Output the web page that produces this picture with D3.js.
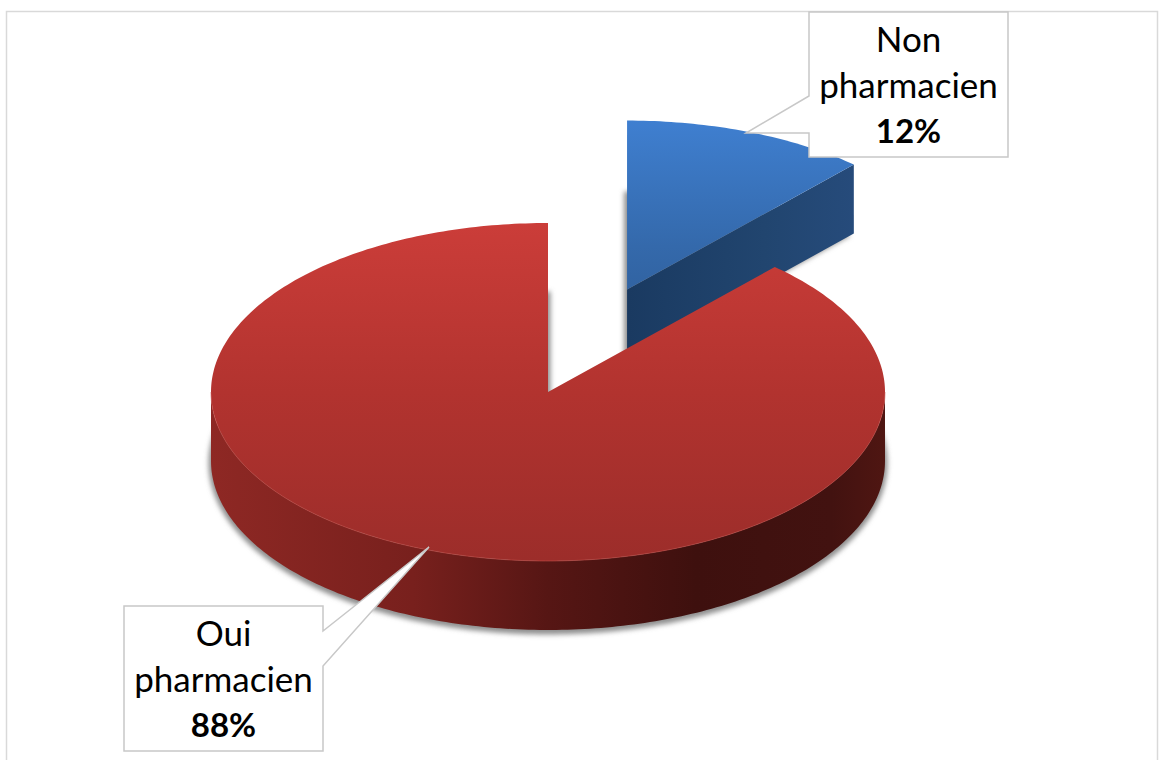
<!DOCTYPE html>
<html>
<head>
<meta charset="utf-8">
<script src="https://cdn.jsdelivr.net/npm/d3@7"></script>
<style>
  html, body { margin: 0; padding: 0; background: #fff; overflow: hidden; }
  text { font-family: Lato, "Open Sans", sans-serif; fill: #000; }
</style>
</head>
<body>
<div id="piechart"></div>
<script>
// Data
var categories = ["Non pharmacien", "Oui pharmacien"];
var labelLines = [["Non", "pharmacien"], ["Oui", "pharmacien"]];
var shares = [11.75, 88.25];
var explosion = [0.65, 0];

var width = 1159, height = 760;

// Set up the dimensions of the pie
var centerX = 548, centerY = 392, radiusX = 337, radiusY = 169, depth = 69;

var svg = d3.select("#piechart")
  .append("svg")
  .attr("width", width)
  .attr("height", height);

// Frame around the chart
svg.append("rect")
  .attr("x", 6.5)
  .attr("y", 11.5)
  .attr("width", 1151)
  .attr("height", 790)
  .attr("fill", "#fff")
  .attr("stroke", "#d9d9d9")
  .attr("stroke-width", 1.5);

// Scales from the unit circle to the flattened pie
var xScale = d3.scaleLinear().domain([-1, 1]).range([centerX - radiusX, centerX + radiusX]);
var yScale = d3.scaleLinear().domain([-1, 1]).range([centerY - radiusY, centerY + radiusY]);

var pie = d3.pie().sort(null).value(function(d) { return d; });
var slices = pie(shares);

var line = d3.line()
  .x(function(d) { return d[0]; })
  .y(function(d) { return d[1]; });

// Gradients and shadow
var defs = svg.append("defs");

function addGradient(id, vertical, x1, x2, stops) {
  var g = defs.append("linearGradient")
    .attr("id", id)
    .attr("gradientUnits", "userSpaceOnUse")
    .attr("x1", vertical ? 0 : x1)
    .attr("x2", vertical ? 0 : x2)
    .attr("y1", vertical ? x1 : 0)
    .attr("y2", vertical ? x2 : 0);
  stops.forEach(function(s) {
    g.append("stop").attr("offset", s[0]).attr("stop-color", s[1]);
  });
}

addGradient("redTop", true, 223, 561, [[0, "#cb3d39"], [0.5, "#b2332f"], [1, "#9c2d2a"]]);
addGradient("redSide", false, 211, 885, [[0, "#8e2824"], [0.3, "#78201d"], [0.5, "#561614"], [0.72, "#3e100e"], [0.92, "#421210"], [1, "#4f1612"]]);
addGradient("blueTop", true, 121, 350, [[0, "#3f7fd0"], [0.55, "#3469ab"], [1, "#2d5b95"]]);
addGradient("blueSide", false, 628, 855, [[0, "#1a3a61"], [0.6, "#21456f"], [1, "#264b7b"]]);

defs.append("filter")
  .attr("id", "blur")
  .attr("x", "-10%").attr("y", "-10%")
  .attr("width", "120%").attr("height", "120%")
  .append("feGaussianBlur")
  .attr("stdDeviation", 2.5);

// Points of the outer edge between two angles (0 = top, clockwise)
function edgePoints(a0, a1, cx, cy, dy) {
  var n = Math.max(2, Math.ceil((a1 - a0) * 60));
  return d3.range(n + 1).map(function(i) {
    var a = a0 + (a1 - a0) * i / n;
    return [xScale(Math.sin(a)) - centerX + cx, yScale(-Math.cos(a)) - centerY + cy + dy];
  });
}

function drawSlice(slice, i, topFill, sideFill, shadowShift, shadowSpread) {
  var mid = (slice.startAngle + slice.endAngle) / 2;
  var cx = xScale(explosion[i] * Math.sin(mid));
  var cy = yScale(-explosion[i] * Math.cos(mid));
  var g = svg.append("g").attr("class", "slice");

  var top = edgePoints(slice.startAngle, slice.endAngle, cx, cy, 0);
  var apex = [cx, cy];
  var topShape = [apex].concat(top);

  // Soft shadow from the bottom footprint only
  var bottom = edgePoints(slice.startAngle, slice.endAngle, cx, cy, depth);
  g.append("path")
    .attr("d", line(bottom.concat([[cx, cy + depth]])) + "Z")
    .attr("transform", "translate(" + shadowShift + ",2)")
    .attr("fill", "#8f8f8f")
    .attr("stroke", "#8f8f8f")
    .attr("stroke-width", shadowSpread)
    .attr("filter", "url(#blur)");

  // Outer wall: only the part facing the viewer
  var a0 = Math.max(slice.startAngle, Math.PI / 2);
  var a1 = Math.min(slice.endAngle, 3 * Math.PI / 2);
  if (a1 > a0) {
    var upper = edgePoints(a0, a1, cx, cy, 0);
    var lower = edgePoints(a0, a1, cx, cy, depth).reverse();
    g.append("path")
      .attr("d", line(upper.concat(lower)) + "Z")
      .attr("fill", sideFill);
  }

  // Cut wall under the straight edge when it faces the viewer
  if (slice.endAngle < Math.PI / 2) {
    var end = top[top.length - 1];
    g.append("path")
      .attr("d", line([apex, end, [end[0], end[1] + depth], [cx, cy + depth]]) + "Z")
      .attr("fill", sideFill);
  }

  // Top face
  g.append("path")
    .attr("d", line(topShape) + "Z")
    .attr("fill", topFill);

  // Thin light rim on the front edge
  if (a1 > a0) {
    g.append("path")
      .attr("d", line(edgePoints(a0, a1, cx, cy, 0)))
      .attr("fill", "none")
      .attr("stroke", "#c9504a")
      .attr("stroke-opacity", 0.55)
      .attr("stroke-width", 1);
  }
}

// Blue goes first so the red slice sits over its wall
drawSlice(slices[0], 0, "url(#blueTop)", "url(#blueSide)", -3, 0);
drawSlice(slices[1], 1, "url(#redTop)", "url(#redSide)", 0, 5);

// Callouts
var boxes = [
  { x: 809, y: 12, pointer: [[809, 133], [746, 133], [809, 96]], side: "left" },
  { x: 124, y: 606, pointer: [[323, 631], [429, 547], [323, 666]], side: "right" }
];
var boxWidth = 199, boxHeight = 145, lineStep = 45.5;

boxes.forEach(function(b, i) {
  var outline;
  if (b.side === "left") {
    outline = [[b.x, b.y], [b.x + boxWidth, b.y], [b.x + boxWidth, b.y + boxHeight], [b.x, b.y + boxHeight]]
      .concat(b.pointer);
  } else {
    outline = [[b.x, b.y], [b.x + boxWidth, b.y]]
      .concat(b.pointer)
      .concat([[b.x + boxWidth, b.y + boxHeight], [b.x, b.y + boxHeight]]);
  }
  svg.append("path")
    .attr("d", line(outline) + "Z")
    .attr("fill", "#fff")
    .attr("stroke", "#c8c8c8")
    .attr("stroke-width", 1.5);

  var textX = b.x + boxWidth / 2;
  var texts = labelLines[i].concat([Math.round(shares[i]) + "%"]);
  texts.forEach(function(t, j) {
    svg.append("text")
      .attr("x", textX)
      .attr("y", b.y + 40 + j * lineStep)
      .attr("text-anchor", "middle")
      .attr("font-size", j === 2 ? 33 : 35)
      .attr("font-weight", j === 2 ? 700 : 400)
      .text(t);
  });
});
</script>
</body>
</html>
